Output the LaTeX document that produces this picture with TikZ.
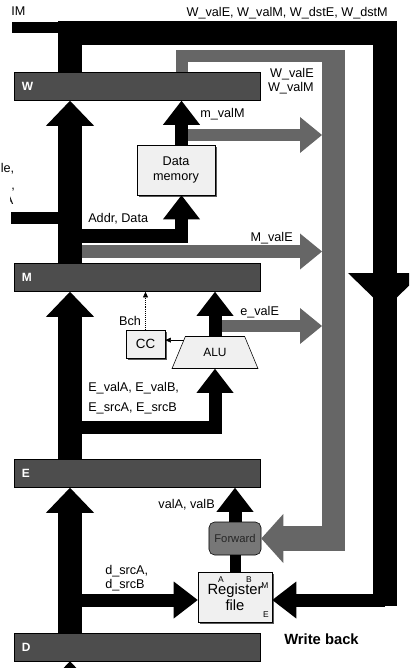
\documentclass[tikz,border=0pt]{standalone}
\usepackage{fontspec}
\setmainfont{Liberation Sans}
\usetikzlibrary{arrows.meta, shapes.geometric, shadows, calc}

\definecolor{reggray}{HTML}{4D4D4D}
\definecolor{boxgray}{HTML}{F0F0F0}
\definecolor{fwdgray}{HTML}{666666}
\definecolor{fwdbox}{HTML}{777777}

\begin{document}
\begin{tikzpicture}[
    x=0.025cm, y=-0.025cm,
    reg/.style    = {draw, fill=reggray, minimum width=6.15cm, minimum height=0.7cm,
                     text width=5.75cm, inner xsep=0.2cm, align=left, text=white,
                     font=\fontsize{8.5}{9}\selectfont\bfseries},
    box/.style    = {draw, fill=boxgray, align=center, inner sep=0pt,
                     drop shadow={shadow xshift=1.3pt, shadow yshift=-1.3pt,
                                  fill=black!65, opacity=1}},
    lbl/.style    = {font=\fontsize{9}{10}\selectfont, inner sep=0pt},
    rflbl/.style  = {font=\fontsize{6}{6}\selectfont, inner sep=0pt},
    wire/.style   = {line width=#1, line join=miter},
    bus/.style    = {wire=0.6cm, -{Triangle[width=1.2cm, length=0.625cm, line width=0pt]}},
    sbus/.style   = {wire=0.325cm, -{Triangle[width=0.925cm, length=0.6cm, line width=0pt]}},
    gbus/.style   = {fwdgray, wire=0.3cm, -{Triangle[width=0.9cm, length=0.55cm, line width=0pt]}},
    small/.style  = {-{Triangle[width=3.5pt, length=4pt]}},
]
\useasboundingbox (0,0) rectangle (409,668);
\clip (0,0) rectangle (409,668);

% columns and rows
\coordinate (lx) at (70,0);
\coordinate (mx) at (181.5,0);
\coordinate (rx) at (385,0);
\coordinate (gx) at (322,0);
\coordinate (gr) at (333.5,0);
\coordinate (wb) at (0,600);
\coordinate (wl) at (12,27.5);
\coordinate (ml) at (11,218);
\coordinate (din) at (70,700);

% pipeline registers
\node[reg] (W) at (137,86.5)  {W};
\node[reg] (M) at (137,277.5) {M};
\node[reg] (E) at (137,473.5) {E};
\node[reg] (D) at (137,647)   {D};

% units
\node[box, minimum width=1.95cm, minimum height=1.25cm,
      font=\fontsize{9}{10.5}\selectfont] (dmem) at (176,170) {Data\\memory};
\node[box, minimum width=0.975cm, minimum height=0.7cm,
      font=\fontsize{9.5}{10}\selectfont] (cc) at (145.5,344) {CC};
\node[draw, fill=boxgray, trapezium, trapezium left angle=58, trapezium right angle=58,
      trapezium stretches=true, minimum width=2.15cm, minimum height=0.8cm,
      inner sep=0pt, font=\fontsize{8.5}{10}\selectfont] (alu) at (215,352.5) {ALU};
\node[draw, fill=fwdbox, rounded corners=4pt, minimum width=1.3cm, minimum height=0.825cm,
      inner sep=0pt, text=black!85, font=\fontsize{8}{9}\selectfont] (fwd) at (235,538.5) {Forward};
\node[box, minimum width=1.85cm, minimum height=1.25cm,
      font=\fontsize{10.5}{11}\selectfont] (rf) at (235,597) {Register\\file};
\node[rflbl] (rfA) at (221,580) {A};
\node[rflbl] (rfB) at (249,580) {B};
\node[rflbl] (rfM) at (265,586) {M};
\node[rflbl] (rfE) at (266,615) {E};

% forwarding paths (gray)
\draw[wire=0.3cm, fwdgray] (mx |- W.north) |- (345,56);
\draw[wire=0.575cm, fwdgray] (gr |- 0,50) -- (gr |- 0,551);
\draw[fwdgray, wire=0.625cm, -{Triangle[width=1.225cm, length=0.55cm, line width=0pt]}]
     (gr |- fwd.east) -- (fwd.east);
\draw[gbus] (mx |- 0,135)    -- (gx |- 0,135);
\draw[gbus] (lx |- 0,251.5)  -- (gx |- 0,251.5);
\draw[gbus] (alu.north |- 0,326) -- (gx |- 0,326);

% main buses (black)
\draw[bus] (din) -- (lx |- D.south);
\draw[bus] (lx |- D.north) -- (lx |- E.south);
\draw[bus] (lx |- E.north) -- (lx |- M.south);
\draw[bus] (lx |- M.north) -- (lx |- W.south);
\draw[wire=0.275cm] (wl) -- (lx |- wl);
\draw[wire=0.3cm] (ml) -- (lx |- ml);
\draw[wire=0.6cm] (lx |- W.north) |- (rx |- 0,33.5) -- (rx |- 0,606);
\fill (348,273) -- (422,273) -- (rx |- 0,309) -- cycle;
\draw[sbus] (rx |- wb) -- (rf.east |- wb);
\draw[sbus] (lx |- wb) -- (rf.west |- wb);
\draw[sbus] (lx |- 0,236) -| (mx |- dmem.south);
\draw[sbus] (mx |- dmem.north) -- (mx |- W.south);
\draw[sbus] (lx |- 0,427.5) -| (alu.south);
\draw[sbus] (alu.north) -- (alu.north |- M.south);
\draw[sbus] (fwd.north) -- (fwd.north |- E.south);
\draw[wire=0.275cm] (rf.north) -- (fwd.south);

% condition codes
\coordinate (aluin) at ($(alu.top left corner)!0.12!(alu.bottom left corner)$);
\draw[small] (aluin) -- (aluin -| cc.east);
\draw[small, densely dotted] (cc.north) -- (cc.north |- M.south);

% labels
\node[lbl, anchor=base west] (frtop) at (11,15.5) {IM};
\node[lbl, anchor=base east] (wout)  at (388,16.5) {W\_valE, W\_valM, W\_dstE, W\_dstM};
\node[lbl, anchor=east, align=right] (wfw) at (314,81) {W\_valE\\W\_valM};
\node[lbl, anchor=base west] (mvalm) at (200,118) {m\_valM};
\node[lbl, anchor=base west] (fr1)   at (0.5,173) {le,};
\node[lbl, anchor=base west] (fr2)   at (11,190) {,};
\begin{scope}
  \clip (10,190) rectangle (20,210);
  \node[lbl, anchor=base east] (fr3) at (13.5,205) {A};
\end{scope}
\node[lbl, anchor=base west] (addr)  at (88,223) {Addr, Data};
\node[lbl, anchor=base east] (mvale) at (293,242) {M\_valE};
\node[lbl, anchor=base] (bch)        at (130,325) {Bch};
\node[lbl, anchor=base west] (evale) at (240,315) {e\_valE};
\node[lbl, anchor=west, align=left] (eval) at (88,398) {E\_valA, E\_valB,\\[4pt]E\_srcA, E\_srcB};
\node[lbl, anchor=base east] (vala)  at (215,508) {valA, valB};
\node[lbl, anchor=west, align=left] (dsrc) at (105,578.5) {d\_srcA,\\d\_srcB};
\node[lbl, anchor=base west, font=\fontsize{10.5}{12}\selectfont\bfseries] (wback) at (284,644) {Write back};

\end{tikzpicture}
\end{document}
